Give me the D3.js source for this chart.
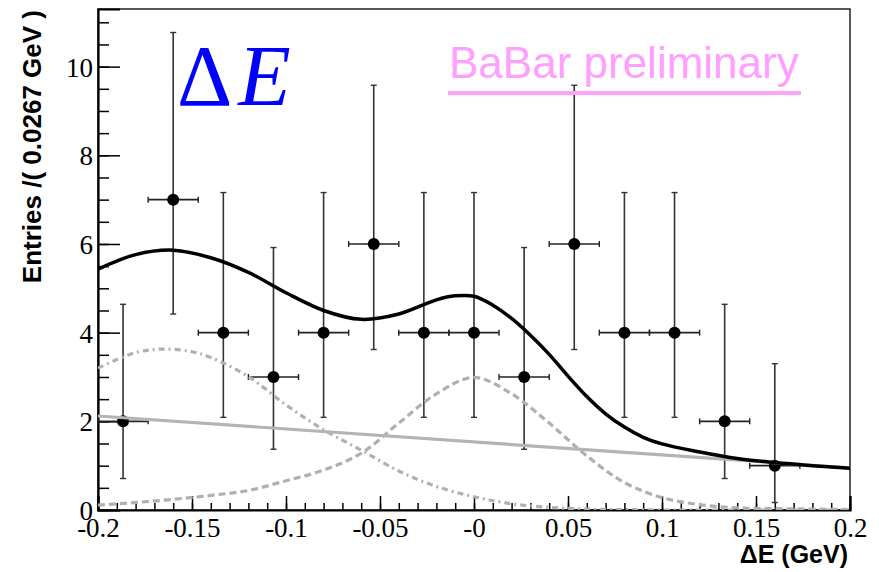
<!DOCTYPE html>
<html><head><meta charset="utf-8">
<script src="https://cdn.jsdelivr.net/npm/d3@7/dist/d3.min.js"></script>
<style>body{margin:0;background:#fff}svg{display:block}</style>
</head><body>
<svg id="chart" width="879" height="572"></svg>
<script>
// ---- data ----
const binCenters = [-0.18667, -0.16, -0.13333, -0.10667, -0.08, -0.05333, -0.02667, 0, 0.02667, 0.05333, 0.08, 0.10667, 0.13333, 0.16];
const counts     = [2, 7, 4, 3, 4, 6, 4, 4, 3, 6, 4, 4, 2, 1];
const errLow     = [1.29, 2.58, 1.91, 1.63, 1.91, 2.38, 1.91, 1.91, 1.63, 2.38, 1.91, 1.91, 1.29, 0.83];
const errHigh    = [2.64, 3.77, 3.16, 2.92, 3.16, 3.58, 3.16, 3.16, 2.92, 3.58, 3.16, 3.16, 2.64, 2.30];
const binHalfWidth = 0.013335;

const totalX = [-0.2, -0.18, -0.16, -0.14, -0.12, -0.10, -0.08, -0.06, -0.04, -0.02, -0.01, 0, 0.01, 0.02, 0.03, 0.04, 0.05, 0.06, 0.07, 0.08, 0.09, 0.10, 0.12, 0.14, 0.16, 0.18, 0.20];
const totalY = [5.43, 5.76, 5.86, 5.69, 5.36, 4.90, 4.50, 4.30, 4.42, 4.74, 4.83, 4.82, 4.62, 4.32, 3.94, 3.51, 3.02, 2.56, 2.17, 1.87, 1.64, 1.49, 1.31, 1.16, 1.07, 1.00, 0.94];

const bkgX = [-0.2, 0.2];
const bkgY = [2.12, 0.95];

const sigX = [-0.2, -0.18, -0.16, -0.14, -0.12, -0.10, -0.08, -0.06, -0.04, -0.02, 0, 0.02, 0.04, 0.06, 0.08, 0.10, 0.12, 0.14, 0.16, 0.18, 0.2];
const sigY = [0.11, 0.17, 0.24, 0.33, 0.44, 0.66, 0.90, 1.28, 1.96, 2.62, 2.99, 2.62, 1.96, 1.22, 0.62, 0.28, 0.12, 0.05, 0.03, 0.02, 0.01];

const peakX = [-0.2, -0.18, -0.165, -0.15, -0.14, -0.12, -0.10, -0.08, -0.06, -0.04, -0.02, 0, 0.02, 0.04, 0.06, 0.08, 0.1, 0.2];
const peakY = [3.20, 3.55, 3.63, 3.57, 3.44, 3.01, 2.37, 1.81, 1.35, 0.88, 0.53, 0.30, 0.14, 0.06, 0.02, 0.01, 0.0, 0.0];

const xTickValues = [-0.2, -0.15, -0.1, -0.05, 0, 0.05, 0.1, 0.15, 0.2];
const xTickLabels = ["-0.2", "-0.15", "-0.1", "-0.05", "-0", "0.05", "0.1", "0.15", "0.2"];
const yTickValues = [0, 2, 4, 6, 8, 10];
const yTickLabels = ["0", "2", "4", "6", "8", "10"];
const xDomain = [-0.2, 0.2];
const yDomain = [0, 11.3];

// ---- layout ----
const W = 879, H = 572;
const m = {left: 98, right: 29, top: 9, bottom: 62};
const svg = d3.select("#chart");
const x = d3.scaleLinear().domain(xDomain).range([m.left, W - m.right]);
const y = d3.scaleLinear().domain(yDomain).range([H - m.bottom, m.top]);

svg.append("defs").append("clipPath").attr("id", "clip")
  .append("rect").attr("x", m.left).attr("y", m.top)
  .attr("width", W - m.left - m.right).attr("height", H - m.top - m.bottom);

// frame
svg.append("rect").attr("x", m.left).attr("y", m.top)
  .attr("width", W - m.left - m.right).attr("height", H - m.top - m.bottom)
  .attr("fill", "none").attr("stroke", "#222").attr("stroke-width", 1.5);

// x axis minor + major
const xMinor = d3.range(-20, 21).map(i => i / 100);
svg.append("g").attr("transform", `translate(0,${H - m.bottom})`)
  .call(d3.axisBottom(x).tickValues(xMinor).tickSize(-7).tickFormat(""))
  .call(g => g.select(".domain").remove())
  .call(g => g.selectAll("line").attr("stroke", "#000").attr("stroke-width", 1.5));
const xAxisG = svg.append("g").attr("transform", `translate(0,${H - m.bottom})`)
  .call(d3.axisBottom(x).tickValues(xTickValues).tickSize(-14).tickPadding(8)
    .tickFormat((d, i) => xTickLabels[i]))
  .call(g => g.select(".domain").attr("stroke", "#000").attr("stroke-width", 2.2));
xAxisG.selectAll("line").attr("stroke", "#000").attr("stroke-width", 1.5);
xAxisG.selectAll("text").attr("font-family", "'Liberation Serif', 'Times New Roman', serif")
  .attr("font-size", 27).attr("fill", "#000");

// y axis minor + major
const yMinor = d3.range(0, 23).map(i => i * 0.5);
svg.append("g").attr("transform", `translate(${m.left},0)`)
  .call(d3.axisLeft(y).tickValues(yMinor).tickSize(-11).tickFormat(""))
  .call(g => g.select(".domain").remove())
  .call(g => g.selectAll("line").attr("stroke", "#000").attr("stroke-width", 1.5));
const yAxisG = svg.append("g").attr("transform", `translate(${m.left},0)`)
  .call(d3.axisLeft(y).tickValues(yTickValues).tickSize(-22).tickPadding(5)
    .tickFormat((d, i) => yTickLabels[i]))
  .call(g => g.select(".domain").attr("stroke", "#000").attr("stroke-width", 2.2));
yAxisG.selectAll("line").attr("stroke", "#000").attr("stroke-width", 1.5);
yAxisG.selectAll("text").attr("font-family", "'Liberation Serif', 'Times New Roman', serif")
  .attr("font-size", 27).attr("fill", "#000").attr("dy", "0.35em");

// axis titles
svg.append("text").attr("transform", "translate(41,10) rotate(-90)")
  .attr("text-anchor", "end").attr("font-family", "'Liberation Sans', Arial, sans-serif")
  .attr("font-weight", "bold").attr("font-size", 26).attr("fill", "#000")
  .text("Entries /( 0.0267 GeV )");
svg.append("text").attr("x", 848).attr("y", 563)
  .attr("text-anchor", "end").attr("font-family", "'Liberation Sans', Arial, sans-serif")
  .attr("font-weight", "bold").attr("font-size", 25).attr("fill", "#000")
  .text("ΔE (GeV)");

// data points with error bars
const data = binCenters.map((c, i) => ({x: c, n: counts[i], lo: counts[i] - errLow[i], hi: counts[i] + errHigh[i]}));
const gData = svg.append("g").attr("clip-path", "url(#clip)");
const pt = gData.selectAll("g.pt").data(data).join("g").attr("class", "pt");
pt.append("line").attr("x1", d => x(d.x)).attr("x2", d => x(d.x))
  .attr("y1", d => y(d.lo)).attr("y2", d => y(d.hi)).attr("stroke", "#333").attr("stroke-width", 1.6);
pt.append("line").attr("x1", d => x(d.x - binHalfWidth)).attr("x2", d => x(d.x + binHalfWidth))
  .attr("y1", d => y(d.n)).attr("y2", d => y(d.n)).attr("stroke", "#222").attr("stroke-width", 1.6);
// caps
pt.append("line").attr("x1", d => x(d.x) - 3).attr("x2", d => x(d.x) + 3)
  .attr("y1", d => y(d.lo)).attr("y2", d => y(d.lo)).attr("stroke", "#333").attr("stroke-width", 1.4);
pt.append("line").attr("x1", d => x(d.x) - 3).attr("x2", d => x(d.x) + 3)
  .attr("y1", d => y(d.hi)).attr("y2", d => y(d.hi)).attr("stroke", "#333").attr("stroke-width", 1.4);
pt.append("line").attr("x1", d => x(d.x - binHalfWidth)).attr("x2", d => x(d.x - binHalfWidth))
  .attr("y1", d => y(d.n) - 3).attr("y2", d => y(d.n) + 3).attr("stroke", "#222").attr("stroke-width", 1.4);
pt.append("line").attr("x1", d => x(d.x + binHalfWidth)).attr("x2", d => x(d.x + binHalfWidth))
  .attr("y1", d => y(d.n) - 3).attr("y2", d => y(d.n) + 3).attr("stroke", "#222").attr("stroke-width", 1.4);
pt.append("circle").attr("cx", d => x(d.x)).attr("cy", d => y(d.n)).attr("r", 6).attr("fill", "#000");

// curves
const line = d3.line().x(d => x(d[0])).y(d => y(d[1])).curve(d3.curveCatmullRom.alpha(0.5));
const gCurves = svg.append("g").attr("clip-path", "url(#clip)");
gCurves.append("path").datum(peakX.map((v, i) => [v, peakY[i]])).attr("d", line)
  .attr("fill", "none").attr("stroke", "#b0b0b0").attr("stroke-width", 3.2).attr("stroke-dasharray", "6,4,2,4");
gCurves.append("path").datum(sigX.map((v, i) => [v, sigY[i]])).attr("d", line)
  .attr("fill", "none").attr("stroke", "#b0b0b0").attr("stroke-width", 3.2).attr("stroke-dasharray", "7,4");
gCurves.append("path").datum(bkgX.map((v, i) => [v, bkgY[i]])).attr("d", line)
  .attr("fill", "none").attr("stroke", "#b4b4b4").attr("stroke-width", 3.2);
gCurves.append("path").datum(totalX.map((v, i) => [v, totalY[i]])).attr("d", line)
  .attr("fill", "none").attr("stroke", "#000").attr("stroke-width", 3.5);

// labels
const lbl = svg.append("text").attr("x", 177).attr("y", 105)
  .attr("font-family", "'Liberation Serif', 'Times New Roman', serif").attr("font-size", 86).attr("fill", "#0000ff");
lbl.append("tspan").text("Δ");
lbl.append("tspan").attr("dx", 6).attr("font-style", "italic").text("E");

svg.append("text").attr("x", 449).attr("y", 78)
  .attr("font-family", "'Liberation Sans', Arial, sans-serif").attr("font-size", 44).attr("fill", "#ffa0ff")
  .text("BaBar preliminary");
svg.append("line").attr("x1", 448).attr("x2", 801).attr("y1", 93).attr("y2", 93)
  .attr("stroke", "#ffa0ff").attr("stroke-width", 4);
</script>
</body></html>
